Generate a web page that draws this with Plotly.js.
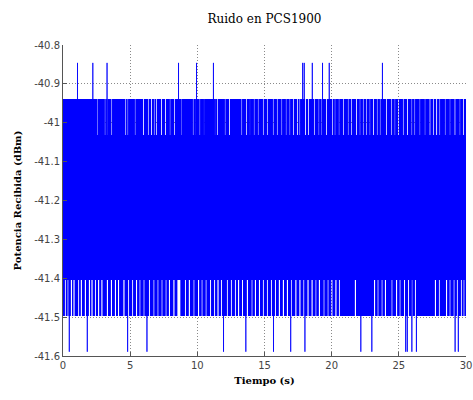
<!DOCTYPE html>
<html>
<head>
<meta charset="utf-8">
<script src="https://cdn.plot.ly/plotly-3.0.1.min.js"></script>
<style>html,body{margin:0;padding:0;background:#fff;}#chart{width:473px;height:400px;}</style>
</head>
<body>
<div id="chart"></div>
<script>
// ---- data ----
const duration = 30;          // s
const samplePeriod = 0.01;    // s
// quantised power levels (dBm)
const peakHigh = -40.846;
const bandHigh = -40.939;
const gapHigh  = -41.032;
const gapLow   = -41.404;
const bandLow  = -41.497;
const peakLow  = -41.589;
// instants (s) of the isolated upward / downward excursions
const spikesTop = [1.07, 2.21, 3.28, 8.61, 9.95, 11.19, 17.84, 17.97, 18.56, 19.33, 19.83, 23.77];
const spikesBottom = [0.47, 1.81, 4.81, 6.25, 11.94, 13.60, 15.66, 16.95, 18.01, 22.18, 22.98, 25.51, 25.63, 25.96, 26.30, 29.20, 29.43];
// instants (s) where the signal did not reach the upper / lower band
const gapsTop = [2.58, 3.13, 3.30, 3.63, 4.66, 4.82, 5.36, 5.98, 6.35, 6.60, 6.79, 6.97, 7.34, 7.62, 7.97, 8.30, 8.84, 9.70, 9.90, 10.20, 10.50, 11.32, 11.49, 12.06, 12.38, 13.30, 13.67, 13.92, 14.22, 14.54, 14.91, 15.21, 15.65, 15.95, 16.28, 16.60, 16.90, 17.15, 17.45, 17.62, 18.05, 18.26, 18.72, 19.05, 19.26, 19.60, 20.05, 20.25, 20.55, 20.87, 21.24, 21.49, 21.86, 22.10, 22.36, 22.61, 22.85, 23.10, 23.40, 23.60, 24.09, 24.47, 24.71, 24.96, 25.33, 25.65, 25.96, 26.20, 26.58, 26.95, 27.32, 27.57, 27.82, 28.06, 28.44, 28.81, 29.18, 29.55, 29.80];
const gapsBottom = [0.17, 0.37, 0.62, 0.82, 1.17, 1.36, 1.66, 1.96, 2.16, 2.41, 2.66, 2.90, 3.30, 3.60, 3.90, 4.14, 4.54, 4.89, 5.19, 5.48, 5.73, 6.03, 6.43, 6.77, 7.07, 7.37, 7.67, 7.92, 8.26, 8.56, 8.71, 9.11, 9.40, 9.75, 10.10, 10.35, 10.65, 10.99, 11.29, 11.54, 11.79, 12.23, 12.53, 12.83, 13.08, 13.37, 13.72, 14.07, 14.32, 14.62, 14.91, 15.21, 15.51, 15.81, 16.10, 16.40, 16.70, 17.00, 17.34, 17.64, 17.94, 18.24, 18.54, 18.83, 19.08, 19.43, 19.73, 20.02, 20.32, 20.57, 21.76, 23.20, 23.45, 23.75, 24.00, 24.49, 24.84, 25.09, 25.43, 25.73, 25.98, 26.23, 27.72, 28.01, 28.56, 28.81, 29.11, 29.35, 29.65, 29.85];
const gapWidthTop = 0.12;
const gapWidthBottom = 0.15;
// axis ticks
const xTickVals = [0, 5, 10, 15, 20, 25, 30];
const xTickLabels = ['0', '5', '10', '15', '20', '25', '30'];
const yTickVals = [-41.6, -41.5, -41.4, -41.3, -41.2, -41.1, -41.0, -40.9, -40.8];
const yTickLabels = ['-41.6', '-41.5', '-41.4', '-41.3', '-41.2', '-41.1', '-41', '-40.9', '-40.8'];

// ---- build the sampled signal from the arrays above ----
function near(list, t, half) { return list.some(v => Math.abs(v - t) < half); }
const n = Math.round(duration / samplePeriod);
// sample index carrying each excursion (even samples = upper side, odd = lower side)
const topSpikeIdx = new Set(spikesTop.map(s => 2 * Math.round(s / (2 * samplePeriod))));
const botSpikeIdx = new Set(spikesBottom.map(s => 2 * Math.round((s - samplePeriod) / (2 * samplePeriod)) + 1));
const xs = [], ys = [];
for (let i = 0; i <= n; i++) {
  const t = +(i * samplePeriod).toFixed(4);
  let y;
  if (i % 2 === 0) {
    if (topSpikeIdx.has(i)) y = peakHigh;
    else if (near(gapsTop, t, gapWidthTop / 2)) y = gapHigh;
    else y = bandHigh;
  } else {
    if (botSpikeIdx.has(i)) y = peakLow;
    else if (near(gapsBottom, t, gapWidthBottom / 2)) y = gapLow;
    else y = bandLow;
  }
  xs.push(t); ys.push(y);
}

const axisCommon = {
  showline: true, linecolor: '#555', linewidth: 1, mirror: false,
  ticks: 'inside', ticklen: 4, tickcolor: '#555',
  showgrid: true, gridcolor: '#8a8a8a', griddash: '1px,2px', gridwidth: 1,
  zeroline: false,
  tickfont: {family: 'DejaVu Sans', size: 10, color: '#444'}
};

const data = [{
  type: 'scatter', mode: 'lines', x: xs, y: ys,
  line: {color: '#0000ff', width: 0.8, simplify: false},
  hoverinfo: 'skip'
}];

const layout = {
  width: 473, height: 400,
  margin: {l: 63, r: 7, t: 45, b: 44},
  paper_bgcolor: '#fff', plot_bgcolor: '#fff',
  showlegend: false,
  title: {text: 'Ruido en PCS1900', x: 0.5, xref: 'paper', y: 0.952, yref: 'container', yanchor: 'middle',
          font: {family: 'DejaVu Serif', size: 12, color: '#000'}},
  xaxis: Object.assign({}, axisCommon, {
    range: [0, 30], tickmode: 'array', tickvals: xTickVals, ticktext: xTickLabels,
    title: {text: '<b>Tiempo (s)</b>', standoff: 6, font: {family: 'DejaVu Serif', size: 10, color: '#000'}}
  }),
  yaxis: Object.assign({}, axisCommon, {
    range: [-41.6, -40.8], tickmode: 'array', tickvals: yTickVals, ticktext: yTickLabels,
    title: {text: '<b>Potencia Recibida (dBm)</b>', standoff: 10, font: {family: 'DejaVu Serif', size: 10, color: '#000'}}
  })
};

Plotly.newPlot('chart', data, layout, {staticPlot: true, displayModeBar: false});
</script>
</body>
</html>
